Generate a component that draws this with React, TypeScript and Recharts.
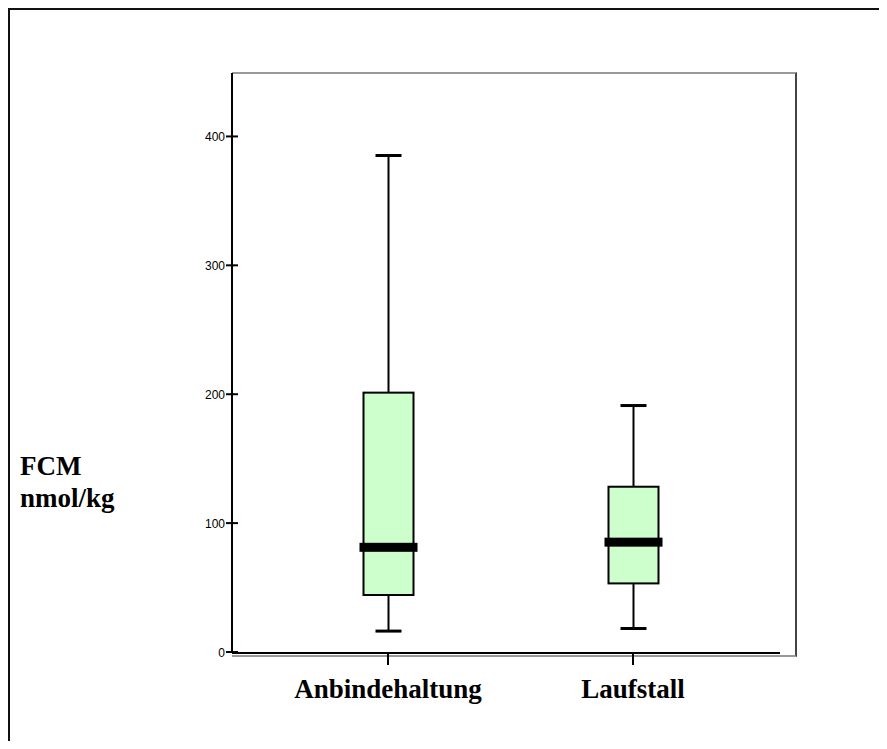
import React from "react";
import { ComposedChart, Bar, XAxis, YAxis, Label } from "recharts";

// Werte (FCM nmol/kg)
const groups = ["Anbindehaltung", "Laufstall"];
const minVals = [17, 19];
const q1Vals = [45, 54];
const medianVals = [82, 86];
const q3Vals = [202, 129];
const maxVals = [386, 192];
const yTicks = [0, 100, 200, 300, 400];

const data = groups.map((name, i) => ({
    name,
    min: minVals[i],
    q1: q1Vals[i],
    median: medianVals[i],
    q3: q3Vals[i],
    max: maxVals[i],
}));

const BoxShape = (props: any) => {
    const { x, y, width, height, payload } = props;
    const { min, max, q1, q3, median } = payload;
    // lineare Abbildung innerhalb des Bereichs [min, max]
    const pix = (v: number) => y + (height * (max - v)) / (max - min);
    const cx = x + width / 2;
    return (
        <g>
            <line x1={cx} x2={cx} y1={pix(max)} y2={pix(min)} stroke="#000" strokeWidth={2} />
            <line x1={cx - 13} x2={cx + 13} y1={pix(max)} y2={pix(max)} stroke="#000" strokeWidth={3} />
            <line x1={cx - 13} x2={cx + 13} y1={pix(min)} y2={pix(min)} stroke="#000" strokeWidth={3} />
            <rect x={x} y={pix(q3)} width={width} height={pix(q1) - pix(q3)} fill="#ccffcc" stroke="#000" strokeWidth={2} />
            <rect x={x - 4} y={pix(median) - 4.5} width={width + 8} height={9} fill="#000" />
        </g>
    );
};

// Achse liegt bei x=222 im Diagramm; Strich kreuzt die Achse
const AXIS_X = 222;
const YTick = (props: any) => {
    const { y, payload } = props;
    return (
        <g>
            <line x1={AXIS_X - 6} x2={AXIS_X + 6} y1={y - 1} y2={y - 1} stroke="#000" strokeWidth={2} />
            <text x={AXIS_X - 7} y={y} dy={4} textAnchor="end" fontSize={12} fontFamily="Liberation Sans, Arial" fill="#000">
                {payload.value}
            </text>
        </g>
    );
};

const YLabel = () => (
    <text fontFamily="Liberation Serif, Times New Roman" fontWeight="bold" fontSize={27} fill="#000">
        <tspan x={10} y={465}>FCM</tspan>
        <tspan x={10} y={497}>nmol/kg</tspan>
    </text>
);

export default function App() {
    return (
        <div
            style={{
                position: "relative",
                width: 877,
                height: 731,
                borderTop: "2px solid #111",
                borderLeft: "2px solid #111",
                background: "#fff",
            }}
        >
            {/* Rahmen um den Plotbereich */}
            <div
                style={{
                    position: "absolute",
                    left: 222,
                    top: 62,
                    width: 563,
                    height: 581,
                    borderTop: "2px solid #999",
                    borderRight: "2px solid #444",
                    borderBottom: "2px solid #999",
                }}
            />
            <div style={{ position: "absolute", left: 0, top: 0 }}>
                <ComposedChart
                    width={877}
                    height={731}
                    data={data}
                    margin={{ top: 63, right: 107, bottom: 28, left: 0 }}
                >
                    <XAxis
                        dataKey="name"
                        type="category"
                        height={60}
                        padding={{ left: 33.5, right: 24.5 }}
                        axisLine={{ stroke: "#000", strokeWidth: 2 }}
                        tickLine={{ stroke: "#000", strokeWidth: 2 }}
                        tickSize={12}
                        tickMargin={14}
                        tick={{ fontSize: 27, fontWeight: "bold", fontFamily: "Liberation Serif, Times New Roman", fill: "#000" }}
                    />
                    <YAxis
                        type="number"
                        domain={[0, 450]}
                        ticks={yTicks}
                        width={222}
                        axisLine={{ stroke: "#000", strokeWidth: 2 }}
                        tickLine={false}
                        tick={<YTick />}
                    >
                        <Label content={<YLabel />} />
                    </YAxis>
                    <Bar
                        dataKey={(d: any) => [d.min, d.max]}
                        barSize={50}
                        shape={<BoxShape />}
                        isAnimationActive={false}
                    />
                </ComposedChart>
            </div>
        </div>
    );
}
